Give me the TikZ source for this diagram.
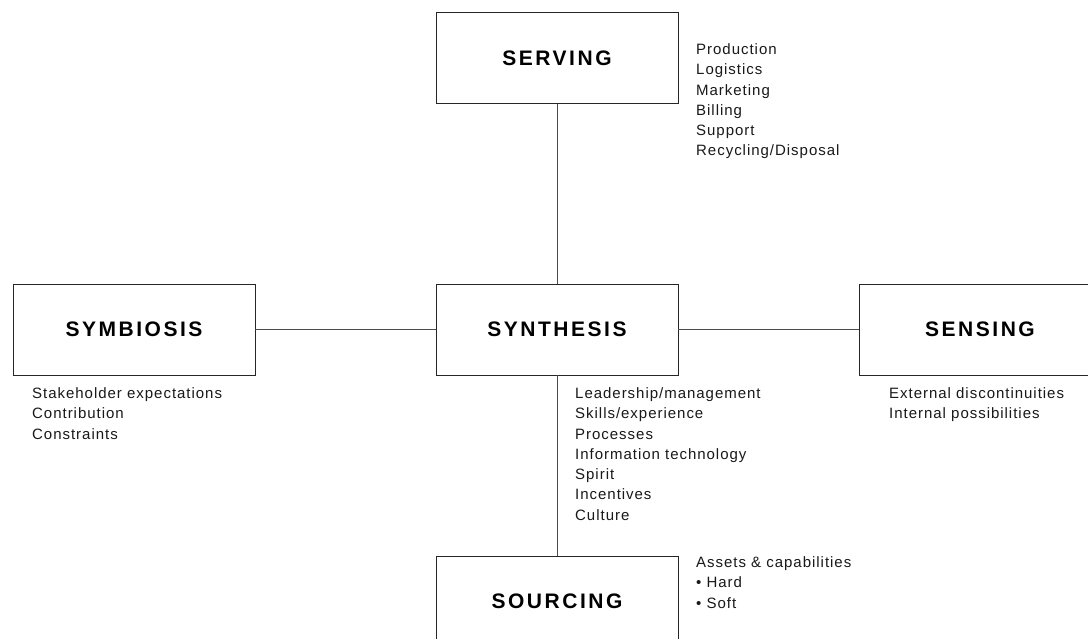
\documentclass[tikz,border=0pt]{standalone}
\usepackage{fontspec}
\setmainfont{Liberation Sans}
\newfontfamily\listfont[LetterSpace=6.5]{Liberation Sans}
\newfontfamily\titlefont[LetterSpace=12]{Liberation Sans}
\begin{document}
\begin{tikzpicture}[x=1pt,y=-1pt,
  box/.style={draw=black!85, line width=0.9pt, minimum width=242pt, minimum height=91pt, inner sep=0pt,
    font=\titlefont\bfseries\fontsize{21}{24}\selectfont},
  conn/.style={draw=black!70, line width=0.9pt},
  lst/.style={anchor=north west, inner sep=0pt, align=left, text=black!90,
    font=\listfont\fontsize{15}{20.3}\selectfont}]
\clip (0,0) rectangle (1088,639);
\fill[white] (0,0) rectangle (1088,639);
\node[box] (serving) at (557,58) {SERVING};
\node[box] (symbiosis) at (134,329.5) {SYMBIOSIS};
\node[box] (synthesis) at (557,329.5) {SYNTHESIS};
\node[box] (sensing) at (980,329.5) {SENSING};
\node[box] (sourcing) at (557,601.5) {SOURCING};
\draw[conn] (serving.south) -- (synthesis.north);
\draw[conn] (symbiosis.east) -- (synthesis.west);
\draw[conn] (synthesis.east) -- (sensing.west);
\draw[conn] (synthesis.south) -- (sourcing.north);
\node[lst] (servlist) at (696,40) {\strut Production\\Logistics\\Marketing\\Billing\\Support\\Recycling/Disposal};
\node[lst] (synlist) at (575,384) {\strut Leadership/management\\Skills/experience\\Processes\\Information technology\\Spirit\\Incentives\\Culture};
\node[lst] (symlist) at (32,384) {\strut Stakeholder expectations\\Contribution\\Constraints};
\node[lst] (senlist) at (889,384) {\strut External discontinuities\\Internal possibilities};
\node[lst] (soulist) at (696,553) {\strut Assets \& capabilities\\• Hard\\• Soft};
\end{tikzpicture}
\end{document}
